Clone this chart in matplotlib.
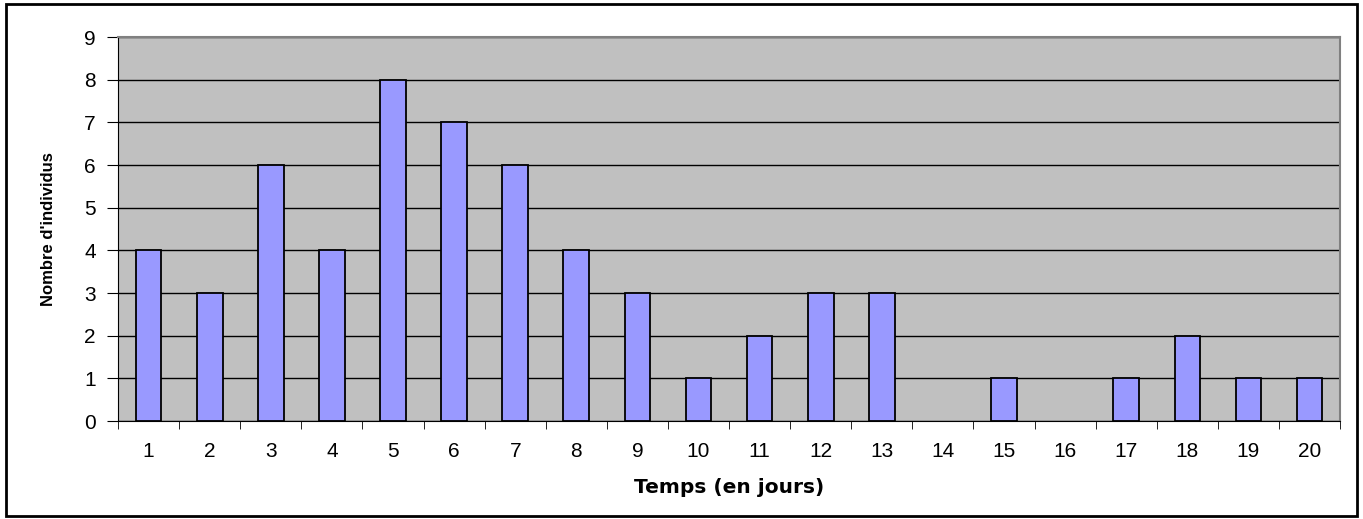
import matplotlib
matplotlib.use('Agg')
import matplotlib.pyplot as plt
from matplotlib.patches import Rectangle

plt.rcParams['font.family'] = ['Liberation Sans', 'DejaVu Sans']

# Data
days = [str(d) for d in range(1, 21)]
counts = [4, 3, 6, 4, 8, 7, 6, 4, 3, 1, 2, 3, 3, 0, 1, 0, 1, 2, 1, 1]

fig = plt.figure(figsize=(13.63, 5.19), dpi=100)
ax = fig.add_axes([0.0866, 0.1888, 0.8966, 0.7399])

# Outer chart border
fig.patches.append(Rectangle((0.0044, 0.006), 0.9912, 0.986, transform=fig.transFigure,
                             fill=False, edgecolor='black', linewidth=2))

ax.set_facecolor('#C0C0C0')
ax.set_axisbelow(True)
ax.yaxis.grid(True, color='black', linewidth=1)

x = list(range(len(days)))
# empty days get no visible outline
widths = [1.3 if c > 0 else 0 for c in counts]
ax.bar(x, counts, width=0.42, color='#9999FF', edgecolor='black', linewidth=widths, zorder=3)

ax.set_xlim(-0.5, len(days) - 0.5)
ax.set_ylim(0, 9)
ax.set_yticks(range(0, 10))
ax.set_xticks(x)
ax.set_xticklabels(days)
ax.set_xticks([i - 0.5 for i in range(len(days) + 1)], minor=True)
ax.tick_params(axis='x', which='major', length=0, pad=15, labelsize=15)
ax.tick_params(axis='x', which='minor', length=6, direction='out', color='black')
ax.tick_params(axis='y', length=8, direction='out', labelsize=15, pad=8)

for side in ['top', 'right']:
    ax.spines[side].set_color('#808080')
    ax.spines[side].set_linewidth(1.5)
ax.spines['left'].set_color('black')
ax.spines['bottom'].set_color('black')

ax.set_xlabel('Temps (en jours)', fontsize=14.5, fontweight='bold', labelpad=12,
              family=['DejaVu Sans'])
ax.set_ylabel("Nombre d'individus", fontsize=12, fontweight='bold', labelpad=20)

fig.savefig('out.png', dpi=100)
